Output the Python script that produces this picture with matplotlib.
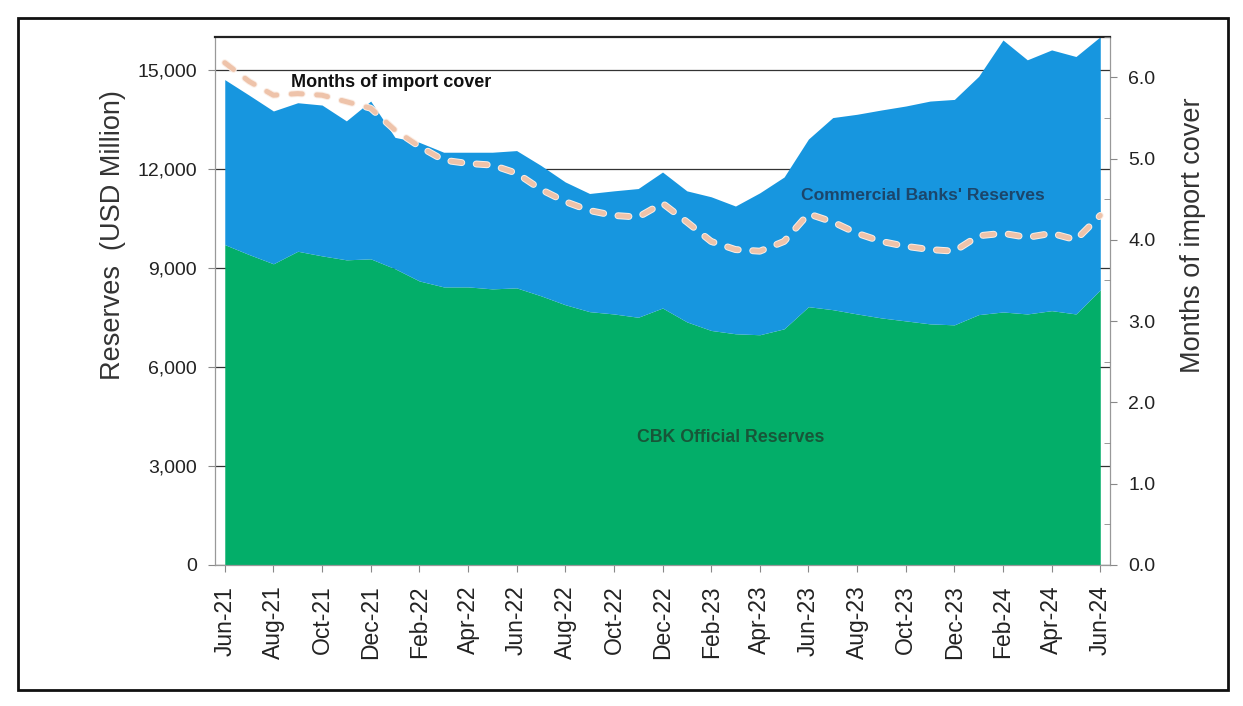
import numpy as np
import pandas as pd
import matplotlib
matplotlib.use('Agg')
import matplotlib.pyplot as plt
import matplotlib.patheffects as pe
from matplotlib.patches import Rectangle
from matplotlib.ticker import FuncFormatter, MultipleLocator

# Monthly data, Jun-21 to Jun-24
months = pd.date_range('2021-06-01', periods=37, freq='MS').strftime('%b-%y').tolist()

# Total reserves (USD million) = CBK official + commercial banks
total_reserves = [14700, 14230, 13750, 14000, 13930, 13450, 14050, 12950, 12800, 12500,
                  12500, 12500, 12550, 12100, 11600, 11250, 11330, 11400, 11900, 11330,
                  11150, 10870, 11270, 11750, 12900, 13550, 13650, 13780, 13900, 14050,
                  14100, 14800, 15900, 15300, 15600, 15400, 16000]
cbk_reserves = [9700, 9400, 9120, 9500, 9360, 9240, 9270, 8970, 8600, 8420,
                8420, 8360, 8390, 8150, 7880, 7670, 7600, 7500, 7780, 7360,
                7100, 7000, 6970, 7150, 7820, 7730, 7600, 7480, 7390, 7300,
                7270, 7580, 7660, 7600, 7700, 7600, 8330]
# Months of import cover (right axis)
import_cover = [6.18, 5.95, 5.78, 5.80, 5.78, 5.70, 5.62, 5.35, 5.15, 4.98,
                4.94, 4.92, 4.82, 4.62, 4.47, 4.36, 4.30, 4.28, 4.45, 4.22,
                3.98, 3.88, 3.86, 3.98, 4.32, 4.22, 4.08, 3.98, 3.92, 3.88,
                3.86, 4.05, 4.08, 4.03, 4.08, 4.00, 4.30]

left_ticks = [0, 3000, 6000, 9000, 12000, 15000]
right_ticks = [0, 1, 2, 3, 4, 5, 6]

green = '#03ae69'
blue = '#1796df'
tick_font = 'Liberation Sans'

fig = plt.figure(figsize=(12.43, 7.06), dpi=100)
ax = fig.add_axes([0.173, 0.200, 0.720, 0.748])
x = np.arange(len(months))

ax.fill_between(x, 0, cbk_reserves, color=green, lw=0, zorder=2)
ax.fill_between(x, cbk_reserves, total_reserves, color=blue, lw=0, zorder=2)

ax.set_xlim(-0.4, 36.4)
ax.set_ylim(0, 16000)
ax.set_yticks(left_ticks)
ax.yaxis.set_major_formatter(FuncFormatter(lambda v, p: f'{int(v):,}'))
ax.set_xticks(x[::2])
ax.set_xticklabels(months[::2], rotation=90, fontsize=16.5, family=tick_font, color='#222')
for lab in ax.get_yticklabels():
    lab.set_family(tick_font)
    lab.set_fontsize(14)
    lab.set_color('#222')

ax.yaxis.grid(True, color='#333', lw=0.9)
ax.set_axisbelow(True)
ax.tick_params(axis='y', direction='out', length=5, color='#888', pad=8)
ax.tick_params(axis='x', direction='out', length=5, color='#888', pad=10)

for side in ['left', 'bottom', 'right']:
    ax.spines[side].set_color('#999')
    ax.spines[side].set_linewidth(0.9)
ax.spines['top'].set_color('#222')
ax.spines['top'].set_linewidth(1.6)

ax.set_ylabel('Reserves  (USD Million)', fontsize=19.5, family=tick_font, color='#333')
ax.yaxis.set_label_coords(-0.10, 0.625)

# Months of import cover on the secondary axis
ax2 = ax.twinx()
ax2.plot(x, import_cover, color='#eec3aa', lw=3.6, linestyle=(0, (2.2, 2.9)),
         dash_capstyle='round', zorder=5,
         path_effects=[pe.Stroke(linewidth=5.0, foreground='#fbeee6'), pe.Normal()])
ax2.set_ylim(0, 6.5)
ax2.set_yticks(right_ticks)
ax2.yaxis.set_minor_locator(MultipleLocator(0.5))
ax2.set_yticklabels([f'{t:.1f}' for t in right_ticks], fontsize=14, family=tick_font, color='#222')
ax2.tick_params(axis='y', which='major', direction='out', length=5, color='#888', pad=8)
ax2.tick_params(axis='y', which='minor', direction='in', length=4, color='#888')
for s in ax2.spines.values():
    s.set_visible(False)
ax2.set_ylabel('Months of import cover', fontsize=19.5, family=tick_font, color='#333')
ax2.yaxis.set_label_coords(1.078, 0.625)

# Series annotations
ax.text(6.85, 14600, 'Months of import cover', fontsize=13, family=tick_font,
        weight='bold', color='#111', ha='center', va='center', zorder=6)
ax2.text(28.7, 4.55, "Commercial Banks' Reserves", fontsize=12.6, family=tick_font,
         weight='bold', color='#1c3d5e', ha='center', va='center', alpha=0.9, zorder=6)
ax.text(20.8, 3850, 'CBK Official Reserves', fontsize=12.8, family=tick_font,
        weight='bold', color='#1a4d33', ha='center', va='center', alpha=0.9, zorder=6)

# Page frame around the figure
fig.add_artist(Rectangle((18 / 1243, 1 - 690 / 706), 1210 / 1243, 672 / 706,
                         transform=fig.transFigure, fill=False, lw=2, ec='#111'))

fig.savefig('out.png', dpi=100)
